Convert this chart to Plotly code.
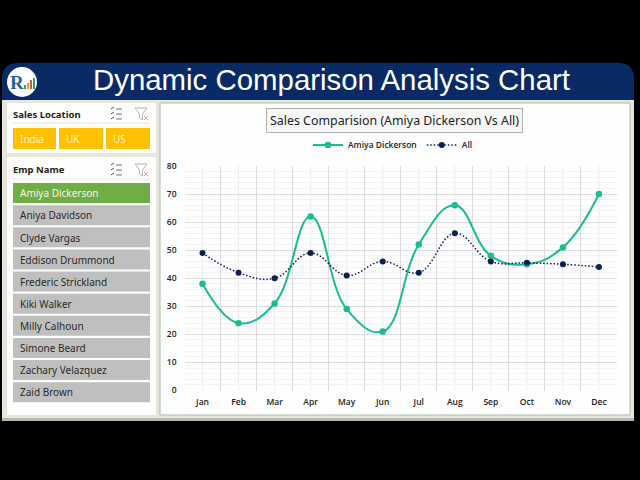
import plotly.graph_objects as go

months = ["Jan","Feb","Mar","Apr","May","Jun","Jul","Aug","Sep","Oct","Nov","Dec"]
amiya = [38,24,31,62,29,21,52,66,48,45,51,70]
all_emp = [49,42,40,49,41,46,42,56,46,45.5,45,44]
locations = ["India","UK","US"]
employees = ["Amiya Dickerson","Aniya Davidson","Clyde Vargas","Eddison Drummond","Frederic Strickland",
             "Kiki Walker","Milly Calhoun","Simone Beard","Zachary Velazquez","Zaid Brown"]
yticks = [0,10,20,30,40,50,60,70,80]

W, H = 640, 480
NAVY = "#0a2a66"
TEAL = "#1abc94"
DARK = "#0b1f52"
FONT = "Open Sans"

def X(p): return p / W
def Y(p): return 1 - p / H

shapes, ann = [], []

def rect(x0, y0, x1, y1, fill, line=None, lw=1, layer="below"):
    shapes.append(dict(type="rect", xref="paper", yref="paper", x0=X(x0), x1=X(x1), y0=Y(y0), y1=Y(y1),
                       fillcolor=fill, line=dict(color=line or fill, width=lw if line else 0), layer=layer))

def seg(x0, y0, x1, y1, color, lw=1):
    shapes.append(dict(type="line", xref="paper", yref="paper", x0=X(x0), x1=X(x1), y0=Y(y0), y1=Y(y1),
                       line=dict(color=color, width=lw), layer="below"))

def text(x, y, s, size, color="#222222", anchor="left", font=FONT, **kw):
    ann.append(dict(xref="paper", yref="paper", x=X(x), y=Y(y), text=s, showarrow=False, xanchor=anchor,
                    yanchor="middle", font=dict(size=size, color=color, family=font), **kw))

# dashboard frame
rect(2, 98, 634, 421, "#e6e6dc")
rect(2, 418, 634, 421, "#b9b9b4")
rect(7, 103, 156, 153, "#fdfdfb")
rect(7, 157, 156, 415, "#fdfdfb")
rect(160, 103, 630, 415, "#fefefe", "#a9bfa9", 1)

# header with rounded top corners
hx0, hx1, hy0, hy1 = X(2), X(634), Y(63), Y(100)
rx, ry = 16 / W, 16 / H
shapes.append(dict(type="path", xref="paper", yref="paper",
                   path=f"M {hx0} {hy1} L {hx0} {hy0-ry} Q {hx0} {hy0} {hx0+rx} {hy0} L {hx1-rx} {hy0} "
                        f"Q {hx1} {hy0} {hx1} {hy0-ry} L {hx1} {hy1} Z",
                   fillcolor=NAVY, line=dict(width=0), layer="below"))
text(331, 80, "Dynamic Comparison Analysis Chart", 29.4, "#ffffff", "center", "Liberation Sans")

# logo
shapes.append(dict(type="circle", xref="paper", yref="paper", x0=X(7), x1=X(37), y0=Y(67), y1=Y(97),
                   fillcolor="#ffffff", line=dict(width=0), layer="below"))
text(17, 82, "<b>R</b>", 19, "#1f5fa8", "center", "Liberation Serif")
for bx, by, c in [(24, 85, "#2e9e5b"), (27, 83, "#e0a020"), (30, 80, "#d9534f"), (33, 78, "#2e9e5b")]:
    rect(bx, by, bx + 2, 89, c)

# slicers
text(11, 114, "<b>Sales Location</b>", 9.5, "#222222", font="Noto Sans")
text(11, 169, "<b>Emp Name</b>", 9.5, "#222222", font="Noto Sans")
seg(13, 123, 150, 123, "#e4e4e4")
seg(13, 179, 150, 179, "#e4e4e4")

def icons(yc):
    for dy in (-5, 0, 5):
        seg(111, yc + dy, 114, yc + dy - 2, "#555555", 1)
        seg(116, yc + dy, 122, yc + dy, "#777777", 1)
    fx = 135
    shapes.append(dict(type="path", xref="paper", yref="paper",
                       path=f"M {X(fx)} {Y(yc-6)} L {X(fx+12)} {Y(yc-6)} L {X(fx+7.5)} {Y(yc)} L {X(fx+7.5)} {Y(yc+6)} "
                            f"L {X(fx+4.5)} {Y(yc+4)} L {X(fx+4.5)} {Y(yc)} Z",
                       fillcolor="#ffffff", line=dict(color="#b5b5b5", width=1), layer="below"))
    seg(fx + 9, yc + 2, fx + 13, yc + 6, "#e59a9a", 1)
    seg(fx + 13, yc + 2, fx + 9, yc + 6, "#e59a9a", 1)

icons(114)
icons(170)

loc_x = [(13, 56), (59, 103), (106, 150)]
for (a, b), name in zip(loc_x, locations):
    rect(a, 128, b, 149, "#ffc000")
    text(a + 5, 138.5, name, 10, "#fff3c4", font="Noto Sans")

for i, name in enumerate(employees):
    top = 183 + i * 22.13
    rect(13, top, 150, top + 20, "#70ad47" if i == 0 else "#bfbfbf")
    text(18, top + 10.3, name, 10, "#f4f4e8" if i == 0 else "#2a2a2a", font="Noto Sans")

# chart title
text(394.5, 120.5, "Sales Comparision (Amiya Dickerson Vs All)", 12.4, "#222222", "center", "Noto Sans",
     bordercolor="#b0b0b0", borderwidth=1, bgcolor="#f7f7f7", borderpad=3)

# lighter mid-category gridlines, positioned by the category axis
for m in months:
    shapes.append(dict(type="line", xref="x", yref="y", x0=m, x1=m, y0=0, y1=80,
                       line=dict(color="#ececec", width=1), layer="below"))

fig = go.Figure()
fig.add_trace(go.Scatter(x=months, y=amiya, name="Amiya Dickerson", mode="lines+markers",
                         line=dict(color=TEAL, width=2, shape="spline", smoothing=1.2),
                         marker=dict(color=TEAL, size=6.5)))
fig.add_trace(go.Scatter(x=months, y=all_emp, name="All", mode="lines+markers",
                         line=dict(color=DARK, width=1.5, shape="spline", smoothing=1.2, dash="1.5px,2px"),
                         marker=dict(color=DARK, size=6)))

dom = [X(184.5), X(617)]
fig.update_layout(
    width=W, height=H, autosize=False,
    margin=dict(l=0, r=0, t=0, b=0, pad=0, autoexpand=False),
    paper_bgcolor="#000000", plot_bgcolor="rgba(0,0,0,0)",
    font=dict(family=FONT),
    shapes=shapes, annotations=ann,
    xaxis=dict(domain=dom, type="category", categoryorder="array", categoryarray=months,
               range=[-0.5, 11.5], tickson="boundaries", ticks="", showgrid=True, gridcolor="#dcdcdc",
               gridwidth=1, showline=False, zeroline=False, ticklabelstandoff=5,
               tickfont=dict(size=8.5, color="#222222", family=FONT, weight=600)),
    yaxis=dict(domain=[Y(390.5), Y(166)], range=[0, 80], tickvals=yticks, showgrid=True, gridcolor="#dcdcdc",
               gridwidth=1, zeroline=False, showline=False, ticks="", ticklabelstandoff=7,
               tickfont=dict(size=8.5, color="#222222", family=FONT, weight=600),
               minor=dict(dtick=2, showgrid=True, gridcolor="#f3f3f3", gridwidth=1)),
    legend=dict(orientation="h", x=X(393), xanchor="center", y=Y(145), yanchor="middle",
                bgcolor="rgba(0,0,0,0)", font=dict(size=8.5, color="#222222", family=FONT, weight=600),
                itemwidth=30, tracegroupgap=0),
    showlegend=True,
)
fig.write_html("out.html", config={"displayModeBar": False},
               post_script="document.body.style.margin='0';document.body.style.background='#000';")
